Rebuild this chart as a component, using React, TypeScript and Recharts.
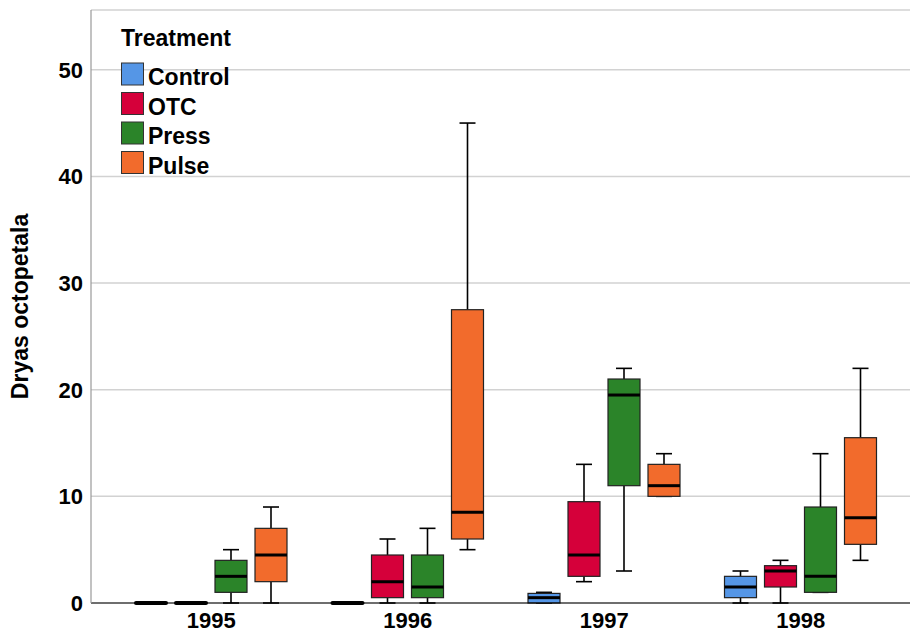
import { ComposedChart, Bar, XAxis, YAxis, CartesianGrid, Legend } from "recharts";

const years = ["1995", "1996", "1997", "1998"];

// [min, q1, median, q3, max] for each year
const controlBox = [
  [0, 0, 0, 0, 0],
  [0, 0, 0, 0, 0],
  [0, 0, 0.5, 0.9, 1],
  [0, 0.5, 1.5, 2.5, 3],
];
const otcBox = [
  [0, 0, 0, 0, 0],
  [0, 0.5, 2, 4.5, 6],
  [2, 2.5, 4.5, 9.5, 13],
  [0, 1.5, 3, 3.5, 4],
];
const pressBox = [
  [0, 1, 2.5, 4, 5],
  [0, 0.5, 1.5, 4.5, 7],
  [3, 11, 19.5, 21, 22],
  [1, 1, 2.5, 9, 14],
];
const pulseBox = [
  [0, 2, 4.5, 7, 9],
  [5, 6, 8.5, 27.5, 45],
  [10, 10, 11, 13, 14],
  [4, 5.5, 8, 15.5, 22],
];

const yTicks = [0, 10, 20, 30, 40, 50];

const treatments = [
  { key: "control", name: "Control", color: "#5596e6" },
  { key: "otc", name: "OTC", color: "#d5003a" },
  { key: "press", name: "Press", color: "#2b8429" },
  { key: "pulse", name: "Pulse", color: "#f26b2c" },
];

const chartData = years.map((year, i) => ({
  year,
  control: controlBox[i],
  otc: otcBox[i],
  press: pressBox[i],
  pulse: pulseBox[i],
}));

const FONT = "'Liberation Sans', Arial, sans-serif";

const makeBoxShape = (key: string, color: string) => (props: any) => {
  const { x, y, width, height, payload } = props;
  const [min, q1, med, q3, max] = payload[key];
  const top = Math.min(y, y + height);
  const h = Math.abs(height);
  const py = (v: number) => (max === min ? top : top + (h * (max - v)) / (max - min));
  const cx = x + width / 2;
  const cap = width / 2;

  if (max === min) {
    return (
      <line x1={x + 1} x2={x + width - 1} y1={top} y2={top} stroke="#000" strokeWidth={4} strokeLinecap="round" />
    );
  }

  return (
    <g>
      <line x1={cx} x2={cx} y1={py(max)} y2={py(q3)} stroke="#000" strokeWidth={1.6} />
      <line x1={cx} x2={cx} y1={py(q1)} y2={py(min)} stroke="#000" strokeWidth={1.6} />
      <line x1={cx - cap / 2} x2={cx + cap / 2} y1={py(max)} y2={py(max)} stroke="#000" strokeWidth={1.6} />
      <line x1={cx - cap / 2} x2={cx + cap / 2} y1={py(min)} y2={py(min)} stroke="#000" strokeWidth={1.6} />
      <rect x={x} y={py(q3)} width={width} height={py(q1) - py(q3)} fill={color} stroke="#222" strokeWidth={1.2} />
      <line x1={x} x2={x + width} y1={py(med)} y2={py(med)} stroke="#000" strokeWidth={3} />
    </g>
  );
};

const renderLegend = (props: any) => {
  const items = props.payload || [];
  return (
    <svg width={260} height={185} style={{ fontFamily: FONT, fontWeight: "bold" }}>
      <text x={121} y={46} fontSize={23} fill="#000">
        Treatment
      </text>
      {items.map((item: any, i: number) => (
        <g key={item.value}>
          <rect x={121.5} y={63 + i * 29.5} width={22} height={22} fill={item.color} stroke="#333" strokeWidth={1} />
          <text x={148} y={85 + i * 29.5} fontSize={23} fill="#000">
            {item.value}
          </text>
        </g>
      ))}
    </svg>
  );
};

const renderYLabel = (props: any) => {
  const vb = props.viewBox || { y: 10, height: 593 };
  const cy = vb.y + vb.height / 2;
  return (
    <text
      transform={`translate(28, ${cy}) rotate(-90)`}
      textAnchor="middle"
      fontSize={23}
      fontWeight="bold"
      fontFamily={FONT}
      fill="#000"
    >
      Dryas octopetala
    </text>
  );
};

export default function App() {
  return (
    <div style={{ position: "absolute", left: 0, top: 0, background: "#fff" }}>
      <ComposedChart
        width={913}
        height={639}
        data={chartData}
        margin={{ top: 10, right: 3, bottom: 0, left: 0 }}
        barSize={32}
        barGap={8}
      >
        <CartesianGrid vertical={false} stroke="#d2d2d2" strokeWidth={1.5} />
        <XAxis
          dataKey="year"
          height={36}
          padding={{ left: 22, right: 11 }}
          tickLine={false}
          tickMargin={3}
          axisLine={{ stroke: "#000", strokeWidth: 1.2 }}
          tick={{ fill: "#000", fontSize: 22, fontWeight: "bold", fontFamily: FONT }}
        />
        <YAxis
          width={91}
          domain={[0, 55.6]}
          ticks={yTicks}
          tickLine={false}
          axisLine={{ stroke: "#999", strokeWidth: 1.2 }}
          tick={{ fill: "#000", fontSize: 22, fontWeight: "bold", fontFamily: FONT }}
          label={{ value: "Dryas octopetala", content: renderYLabel }}
        />
        <Legend
          layout="vertical"
          align="center"
          verticalAlign="middle"
          content={renderLegend}
          wrapperStyle={{ left: 0, top: 0, width: 260, height: 185 }}
        />
        {treatments.map((t) => (
          <Bar
            key={t.key}
            name={t.name}
            dataKey={(d: any) => [d[t.key][0], d[t.key][4]]}
            fill={t.color}
            shape={makeBoxShape(t.key, t.color)}
            isAnimationActive={false}
          />
        ))}
      </ComposedChart>
    </div>
  );
}
